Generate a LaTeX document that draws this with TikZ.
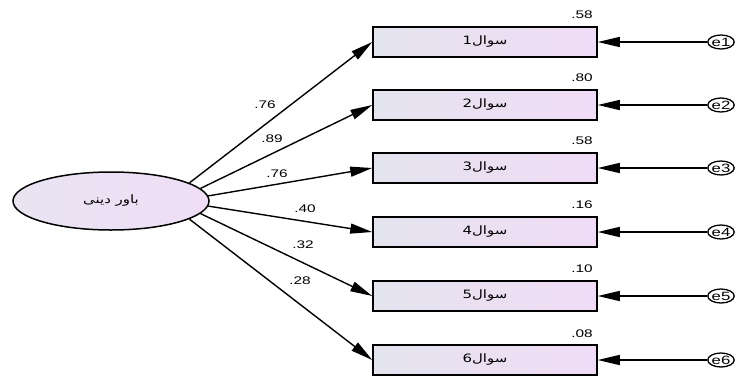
\documentclass[tikz,border=0pt]{standalone}
\usepackage{fontspec}
\setmainfont{Liberation Sans}[FakeStretch=1.4]
\newfontfamily\arabicfont[Script=Arabic,FakeStretch=1.3]{DejaVu Sans}
\TeXXeTstate=1
\usetikzlibrary{arrows.meta,shapes.geometric}
\definecolor{boxleft}{HTML}{E4E4EE}
\definecolor{boxright}{HTML}{F0DCF6}
\definecolor{latleft}{HTML}{E8E4F2}
\definecolor{latright}{HTML}{F0DEF6}
\tikzset{
  item/.style={draw, line width=1.5pt, minimum width=224pt, minimum height=30pt, inner sep=0pt,
    left color=boxleft, right color=boxright, font=\arabicfont\fontsize{11.5}{13}\selectfont},
  latent/.style={draw, ellipse, line width=1.5pt, minimum width=196pt, minimum height=58pt, inner sep=0pt,
    left color=latleft, right color=latright, font=\arabicfont\fontsize{11.5}{13}\selectfont},
  err/.style={draw, ellipse, line width=1.3pt, minimum width=26pt, minimum height=14pt, inner sep=0pt,
    font=\fontsize{12}{13}\selectfont},
  load/.style={line width=1.4pt, -{Triangle[length=22pt,width=10pt]}},
  coef/.style={font=\fontsize{11}{12}\selectfont, inner sep=0pt}
}
\begin{document}
\begin{tikzpicture}[x=1pt,y=-1pt]
\useasboundingbox (0,0) rectangle (737,376);
\node[latent] (bd) at (111,201) {\beginR باور دینی\endR};
% observed items
\node[item] (q1) at (485,42) {\beginR سوال1\endR};
\node[item] (q2) at (485,105) {\beginR سوال2\endR};
\node[item] (q3) at (485,168) {\beginR سوال3\endR};
\node[item] (q4) at (485,232) {\beginR سوال4\endR};
\node[item] (q5) at (485,296) {\beginR سوال5\endR};
\node[item] (q6) at (485,360) {\beginR سوال6\endR};
% errors
\node[err] (e1) at (721,42) {e1};
\node[err] (e2) at (721,105) {e2};
\node[err] (e3) at (721,168) {e3};
\node[err] (e4) at (721,232) {e4};
\node[err] (e5) at (721,296) {e5};
\node[err] (e6) at (721,360) {e6};
% loadings
\draw[load] (bd.13) -- (q1.west);
\draw[load] (bd.8) -- (q2.west);
\draw[load] (bd.3) -- (q3.west);
\draw[load] (bd.-3) -- (q4.west);
\draw[load] (bd.-8) -- (q5.west);
\draw[load] (bd.-13) -- (q6.west);
\draw[load] (e1) -- (q1.east);
\draw[load] (e2) -- (q2.east);
\draw[load] (e3) -- (q3.east);
\draw[load] (e4) -- (q4.east);
\draw[load] (e5) -- (q5.east);
\draw[load] (e6) -- (q6.east);
\node[coef] (l1) at (265,105) {.76};
\node[coef] (l2) at (272,139) {.89};
\node[coef] (l3) at (277,174) {.76};
\node[coef] (l4) at (305,209) {.40};
\node[coef] (l5) at (303,245) {.32};
\node[coef] (l6) at (300,281) {.28};
% squared multiple correlations
\node[coef,anchor=east] (s1) at (593,15) {.58};
\node[coef,anchor=east] (s2) at (593,78) {.80};
\node[coef,anchor=east] (s3) at (593,141) {.58};
\node[coef,anchor=east] (s4) at (593,205) {.16};
\node[coef,anchor=east] (s5) at (593,269) {.10};
\node[coef,anchor=east] (s6) at (593,334) {.08};
\end{tikzpicture}
\end{document}
